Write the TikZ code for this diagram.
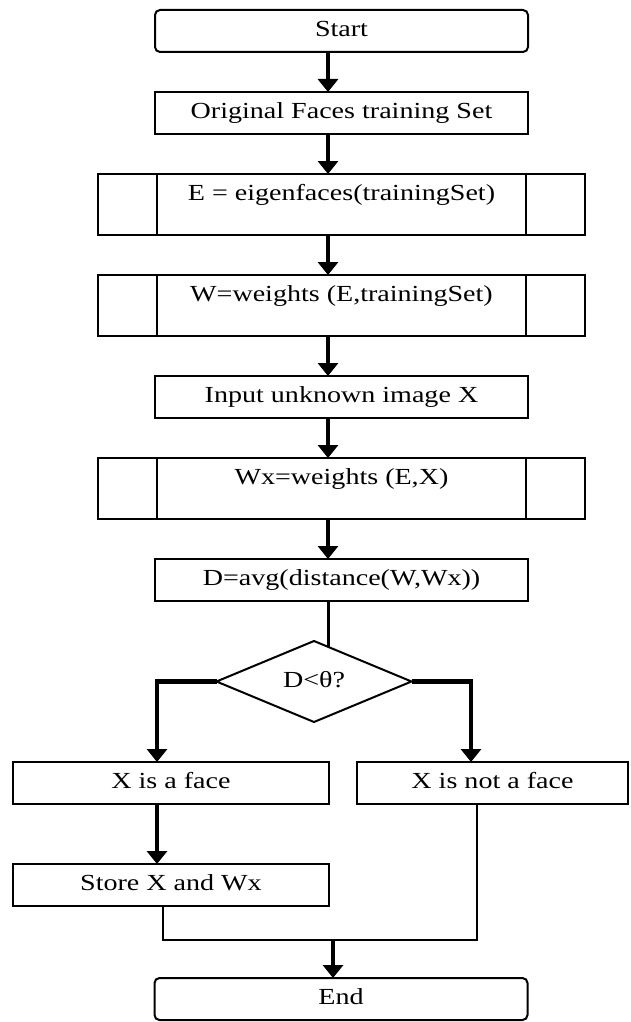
\documentclass[tikz,border=0pt]{standalone}
\usepackage{fontspec}
\setmainfont{Liberation Serif}[FakeStretch=1.22]
\usetikzlibrary{arrows.meta,positioning,calc,shapes.geometric}

\begin{document}
\begin{tikzpicture}[
  x=1pt, y=1pt,
  node distance=40pt,
  base/.style={draw, line width=2pt, outer sep=0pt, inner sep=0pt, align=center,
               font=\fontsize{23}{27}\selectfont, text height=16pt, text depth=5pt},
  term/.style={base, rounded corners=5pt, minimum width=373pt, minimum height=42pt},
  box/.style={base, minimum width=373pt, minimum height=42pt},
  subbox/.style={base, minimum width=487pt, minimum height=61pt, text depth=24pt},
  decide/.style={base, diamond, aspect=2.4, minimum width=195pt, minimum height=81pt},
  ar/.style={-{Triangle[width=20pt,length=13pt]}, line width=3.5pt},
  arthick/.style={ar, line width=4.5pt},
  ln/.style={line width=2.5pt},
]
\useasboundingbox (0,0) rectangle (630,-1022);

\node[term] (start) at (341.5,-31) {Start};
\node[box, below=of start] (orig) {Original Faces training Set};
\node[subbox, below=of orig] (eig) {E = eigenfaces(trainingSet)};
\node[subbox, below=of eig] (wts) {W=weights (E,trainingSet)};
\node[box, below=of wts] (inp) {Input unknown image X};
\node[subbox, below=of inp] (wtx) {Wx=weights (E,X)};
\node[box, below=of wtx] (dist) {D=avg(distance(W,Wx))};

\node[decide, below=of dist, xshift=-27.5pt] (dec) {D<θ?};

\node[box, minimum width=316pt, below=of dec, xshift=-143pt] (xface) {X is a face};
\node[box, minimum width=271pt, below=of dec, xshift=178.5pt] (noface) {X is not a face};
\node[box, minimum width=316pt, below=60pt of xface] (store) {Store X and Wx};
\node[term, below=72pt of store, xshift=170pt] (end) {End};

% side bars of the predefined-process boxes
\foreach \n in {eig,wts,wtx} {
  \draw[line width=2pt] ([xshift=59pt]\n.north west) -- ([xshift=59pt]\n.south west);
  \draw[line width=2pt] ([xshift=-59pt]\n.north east) -- ([xshift=-59pt]\n.south east);
}

\coordinate (spine) at (328,0);
\foreach \a/\b in {start/orig, orig/eig, eig/wts, wts/inp, inp/wtx, wtx/dist}
  \draw[ar] (\a.south -| spine) -- (\b.north -| spine);

\coordinate (dectop) at ($(dec.north)!0.144!(dec.east)$);
\draw[ln, line width=3pt] (dist.south -| spine) -- (spine |- dectop);

\draw[arthick] (dec.west) -| ([xshift=-14pt]xface.north);
\draw[arthick] (dec.east) -| ([xshift=-21.5pt]noface.north);
\draw[arthick] ([xshift=-14pt]xface.south) -- ([xshift=-14pt]store.north);

\coordinate (merge) at ($(end.north)+(-8,38)$);
\draw[ln] ([xshift=-8pt]store.south) |- (merge);
\draw[ln] ([xshift=-15.5pt]noface.south) |- (merge);
\draw[ar] (merge) -- (merge |- end.north);

\end{tikzpicture}
\end{document}
